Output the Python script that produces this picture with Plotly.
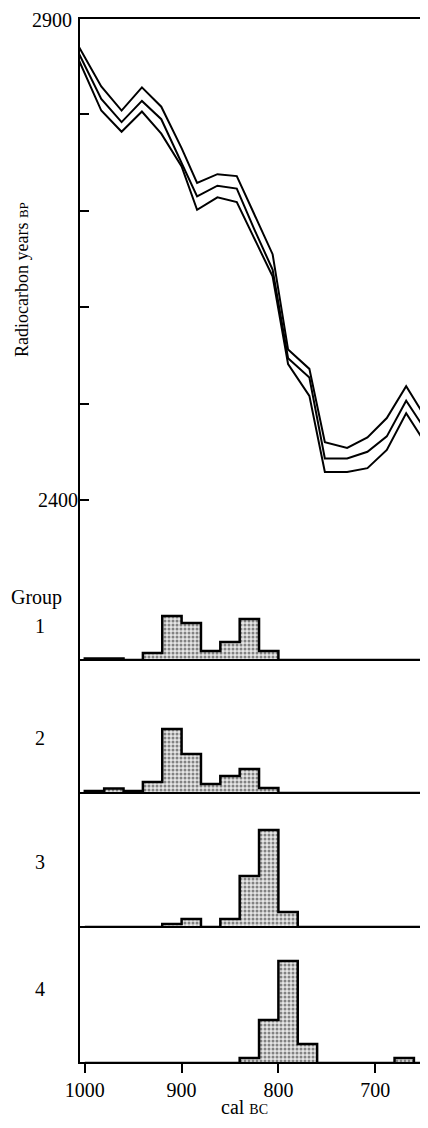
import plotly.graph_objects as go

# page body has an 8px default margin; the figure is sized to fill the rest
OFF = 8
W, H = 428 - OFF, 1128 - OFF

# ---- Calibration curve (cal BC vs radiocarbon years BP) ----
cal_years = [1006, 983, 962, 941, 921, 900, 884, 863, 843, 825, 806, 790, 768, 752, 729, 708, 688, 668, 647]
curve_upper = [2870, 2829, 2804, 2828, 2808, 2765, 2729, 2738, 2736, 2697, 2655, 2556, 2536, 2460, 2454, 2465, 2485, 2518, 2484]
curve_mid = [2863, 2816, 2792, 2814, 2795, 2750, 2715, 2726, 2723, 2681, 2639, 2547, 2527, 2443, 2443, 2450, 2466, 2503, 2471]
curve_lower = [2856, 2804, 2782, 2803, 2780, 2746, 2701, 2714, 2709, 2671, 2632, 2541, 2508, 2429, 2429, 2433, 2452, 2490, 2457]

# ---- Calibrated date distributions per group (20-year bins, relative probability) ----
bin_starts = [1000, 980, 960, 940, 920, 900, 880, 860, 840, 820, 800, 780, 760, 740, 720, 700, 680, 660]
bin_width = 20
group1 = [1.5, 1.5, 0, 7, 44, 37, 9, 18, 41, 9, 0, 0, 0, 0, 0, 0, 0, 0]
group2 = [2, 4.5, 2, 11, 64, 39, 9, 17, 24, 5, 0, 0, 0, 0, 0, 0, 0, 0]
group3 = [0, 0, 0, 0, 3, 8, 0, 8, 51, 97, 15, 0, 0, 0, 0, 0, 0, 0]
group4 = [0, 0, 0, 0, 0, 0, 0, 0, 5, 43, 102, 19, 0, 0, 0, 0, 5, 0]
groups = [group1, group2, group3, group4]
group_labels = ["1", "2", "3", "4"]

x_ticks = [1000, 900, 800, 700]
y_ticks = [2400, 2500, 2600, 2700, 2800, 2900]
y_ticktext = ["2400", "", "", "", "", ""]
y_top_label = "2900"

FONT = "Liberation Serif"
PX_PER_YR = 0.964  # vertical pixels per radiocarbon year


def fx(p):
    return (p - OFF) / W


def fy(p):
    return 1 - (p - OFF) / H


def step_xy(vals):
    xs, ys = [bin_starts[0]], [0]
    for s, v in zip(bin_starts, vals):
        xs += [s, s - bin_width]
        ys += [v, v]
    xs.append(bin_starts[-1] - bin_width)
    ys.append(0)
    return xs, ys


X_LEFT, X_RIGHT = 79, 426.5
X_RANGE = [1006, 647]
x_dom = [fx(X_LEFT), fx(X_RIGHT)]

# panel pixel extents (top, bottom), in page pixels
Y_TOP_VAL = 2901
curve_top = 18 - (Y_TOP_VAL - 2900) * PX_PER_YR
curve_px = (curve_top, 660)
panel_px = [(527, 660), (660, 793), (793, 927), (927, 1063)]

fig = go.Figure()

for ys in (curve_upper, curve_mid, curve_lower):
    fig.add_trace(go.Scatter(x=cal_years, y=ys, mode="lines",
                             line=dict(color="black", width=2),
                             xaxis="x", yaxis="y", hoverinfo="skip"))

for i, vals in enumerate(groups):
    xs, ys = step_xy(vals)
    fig.add_trace(go.Scatter(
        x=xs, y=ys, mode="lines", fill="tozeroy",
        fillcolor="rgba(0,0,0,0)",
        fillpattern=dict(shape=".", fgcolor="#1e1e1e", bgcolor="#e6e6e6",
                         size=4, solidity=0.45),
        line=dict(color="black", width=2.5),
        xaxis=f"x{i + 2}", yaxis=f"y{i + 2}", hoverinfo="skip"))

layout = dict(
    width=W, height=H,
    margin=dict(l=0, r=0, t=0, b=0, autoexpand=False),
    paper_bgcolor="white", plot_bgcolor="white",
    showlegend=False,
    font=dict(family=FONT, color="black", size=20),
    xaxis=dict(domain=x_dom, range=X_RANGE, anchor="y", visible=False,
               automargin=False),
    yaxis=dict(domain=[fy(curve_px[1]), fy(curve_px[0])],
               range=[Y_TOP_VAL - (curve_px[1] - curve_px[0]) / PX_PER_YR, Y_TOP_VAL],
               anchor="x", tickvals=y_ticks, ticktext=y_ticktext,
               ticks="inside", ticklen=10, tickwidth=1.5, tickcolor="black",
               showgrid=False, zeroline=False, showline=False, automargin=False,
               tickfont=dict(family=FONT, size=20, color="black")),
)

for i, (top, bot) in enumerate(panel_px):
    n = i + 2
    last = (i == len(panel_px) - 1)
    xa = dict(domain=x_dom, range=X_RANGE, anchor=f"y{n}", automargin=False,
              showgrid=False, zeroline=False, showline=False)
    if last:
        xa.update(tickvals=x_ticks, ticks="outside", ticklen=9, tickwidth=1.5,
                  tickcolor="black",
                  tickfont=dict(family=FONT, size=20, color="black"))
    else:
        xa.update(visible=False)
    layout[f"xaxis{n}"] = xa
    layout[f"yaxis{n}"] = dict(domain=[fy(bot), fy(top)], range=[0, bot - top],
                               anchor=f"x{n}", visible=False, automargin=False)

fig.update_layout(**layout)

# frame and panel dividers
shapes = [dict(type="rect", xref="paper", yref="paper",
               x0=fx(X_LEFT), x1=fx(X_RIGHT), y0=fy(1063), y1=fy(18),
               line=dict(color="black", width=2))]
for yp in (660, 793, 927):
    shapes.append(dict(type="line", xref="paper", yref="paper",
                       x0=fx(X_LEFT), x1=fx(X_RIGHT), y0=fy(yp), y1=fy(yp),
                       line=dict(color="black", width=2)))
fig.update_layout(shapes=shapes)

ann = [
    dict(text="Radiocarbon years <span style='font-size:13px'>BP</span>",
         x=fx(22), y=fy(280), textangle=-90, font=dict(size=18)),
    dict(text="Group", x=fx(36), y=fy(597), font=dict(size=20)),
    dict(text="cal <span style='font-size:14px'>BC</span>", x=fx(244), y=fy(1107),
         font=dict(size=20)),
    dict(text=y_top_label, x=fx(52), y=fy(20), font=dict(size=20)),
]
label_y = [626, 738, 862, 989]
for lab, yp in zip(group_labels, label_y):
    ann.append(dict(text=lab, x=fx(40), y=fy(yp), font=dict(size=20)))
for a in ann:
    a.update(xref="paper", yref="paper", showarrow=False,
             xanchor="center", yanchor="middle")
    a["font"] = dict(family=FONT, color="black", size=a["font"]["size"])
fig.update_layout(annotations=ann)

fig.write_html("out.html")
